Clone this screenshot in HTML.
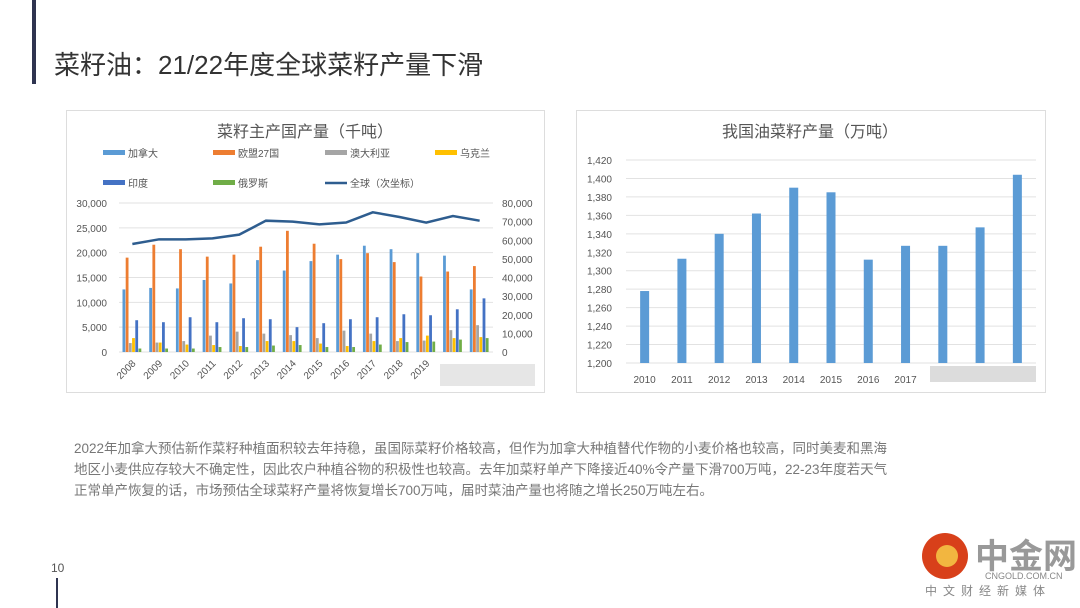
<!DOCTYPE html>
<html><head><meta charset="utf-8">
<style>
body{margin:0;width:1080px;height:608px;background:#fff;overflow:hidden;font-family:"Liberation Sans","Noto Sans CJK SC",sans-serif;}
svg{display:block}
text{font-family:"Liberation Sans","Noto Sans CJK SC",sans-serif}
</style></head>
<body>
<svg id="s" width="1080" height="608" viewBox="0 0 1080 608" xmlns="http://www.w3.org/2000/svg">
<rect x="32" y="0" width="4" height="84" fill="#2f3450"/>
<text x="54" y="74" font-size="26" fill="#333">菜籽油：21/22年度全球菜籽产量下滑</text>
<rect x="66.5" y="110.5" width="478" height="282" fill="#fff" stroke="#ddd"/>
<rect x="576.5" y="110.5" width="469" height="282" fill="#fff" stroke="#ddd"/>
<g id="left"></g>
<g id="right"></g>
<g font-size="13.5" fill="#777">
<text x="74" y="453">2022年加拿大预估新作菜籽种植面积较去年持稳，虽国际菜籽价格较高，但作为加拿大种植替代作物的小麦价格也较高，同时美麦和黑海</text>
<text x="74" y="474">地区小麦供应存较大不确定性，因此农户种植谷物的积极性也较高。去年加菜籽单产下降接近40%令产量下滑700万吨，22-23年度若天气</text>
<text x="74" y="495">正常单产恢复的话，市场预估全球菜籽产量将恢复增长700万吨，届时菜油产量也将随之增长250万吨左右。</text>
</g>
<text x="51" y="572" font-size="12" fill="#555">10</text>
<rect x="56" y="578" width="2" height="30" fill="#2f3450"/>
<g>
<circle cx="945" cy="556" r="23" fill="#d8401a"/>
<circle cx="947" cy="556" r="11" fill="#f2b640"/>
<text x="975" y="568" font-size="34" font-weight="bold" fill="#999">中金网</text>
<text x="985" y="579" font-size="9" fill="#888">CNGOLD.COM.CN</text>
<text x="925" y="595" font-size="12" fill="#888" letter-spacing="6">中文财经新媒体</text>
</g>
</svg>
<script>
// Left chart data
const years = ['2008','2009','2010','2011','2012','2013','2014','2015','2016','2017','2018','2019','2020','2021'];
const canada = [12600,12900,12800,14500,13800,18500,16400,18300,19600,21400,20700,19900,19400,12600];
const eu27 = [19000,21600,20700,19200,19600,21200,24400,21800,18700,19900,18100,15200,16200,17300];
const australia = [1800,1900,2200,3300,4100,3700,3400,2800,4300,3700,2200,2300,4400,5400];
const ukraine = [2800,1900,1500,1400,1200,2200,2200,1700,1200,2200,2800,3300,2800,3000];
const india = [6400,6000,7000,6000,6800,6600,5000,5800,6600,7000,7600,7400,8600,10800];
const russia = [700,700,700,1000,1000,1300,1400,1000,1000,1500,2000,2100,2500,2800];
const globalTotal = [58000,60500,60500,61000,63000,70500,70000,68500,69500,75000,72500,69500,73000,70500];
const leftTicks = [0,5000,10000,15000,20000,25000,30000];
const rightTicks = [0,10000,20000,30000,40000,50000,60000,70000,80000];
// Right chart data
const cnYears = ['2010','2011','2012','2013','2014','2015','2016','2017','','',''];
const cnValues = [1278,1313,1340,1362,1390,1385,1312,1327,1327,1347,1404];
const cnTicks = [1200,1220,1240,1260,1280,1300,1320,1340,1360,1380,1400,1420];

const NS='http://www.w3.org/2000/svg';
function mk(p,tag,a,txt){const e=document.createElementNS(NS,tag);for(const k in a)e.setAttribute(k,a[k]);if(txt!==undefined)e.textContent=txt;p.appendChild(e);return e;}
const fmt=v=>v.toLocaleString('en-US');

// LEFT
const L=document.getElementById('left');
const x0=119,x1=493,yT=203,yB=352;
const yL=v=>yB-(v/30000)*(yB-yT);
const yR=v=>yB-(v/80000)*(yB-yT);
const cw=(x1-x0)/years.length;
const t1=mk(L,'text',{x:305,y:137,'font-size':16,fill:'#555','text-anchor':'middle'},'菜籽主产国产量（千吨）');

leftTicks.forEach(v=>{
  const g=mk(L,'line',{x1:x0,x2:x1,y1:yL(v),y2:yL(v),stroke:'#e2e2e2'});
  
  const t=mk(L,'text',{x:107,y:yL(v)+4,'font-size':10,fill:'#555','text-anchor':'end'},fmt(v));
  
});
rightTicks.forEach(v=>{
  const t=mk(L,'text',{x:502,y:yR(v)+4,'font-size':10,fill:'#555'},fmt(v));
  
});
const series=[[canada,'#5b9bd5','加拿大'],[eu27,'#ed7d31','欧盟27国'],[australia,'#a5a5a5','澳大利亚'],[ukraine,'#ffc000','乌克兰'],[india,'#4472c4','印度'],[russia,'#70ad47','俄罗斯']];
const bw=3.2;
series.forEach((s,si)=>{
  s[0].forEach((v,i)=>{
    const bx=x0+i*cw+3.5+si*bw;
    const r=mk(L,'rect',{x:bx,y:yL(v),width:bw-0.4,height:yB-yL(v),fill:s[1]});
    
    
  });
});
const pts=globalTotal.map((v,i)=>(x0+(i+0.5)*cw)+','+yR(v)).join(' ');
const pl=mk(L,'polyline',{points:pts,fill:'none',stroke:'#2e5d8f','stroke-width':2.5});

years.forEach((y,i)=>{
  if(i>=12)return;
  const cx=x0+(i+0.5)*cw;
  const t=mk(L,'text',{x:cx+4,y:yB+12,'font-size':10,fill:'#555','text-anchor':'end',transform:`rotate(-45 ${cx+4} ${yB+12})`},y);
  
});
const blur1=mk(L,'rect',{x:440,y:364,width:95,height:22,fill:'#e6e6e6'});

const leg=[[103,153,'#5b9bd5','加拿大','rect'],[213,153,'#ed7d31','欧盟27国','rect'],[325,153,'#a5a5a5','澳大利亚','rect'],[435,153,'#ffc000','乌克兰','rect'],[103,183,'#4472c4','印度','rect'],[213,183,'#70ad47','俄罗斯','rect'],[325,183,'#2e5d8f','全球（次坐标）','line']];
leg.forEach(l=>{
  const m=l[4]==='rect'?mk(L,'rect',{x:l[0],y:l[1]-3,width:22,height:5,fill:l[2]}):mk(L,'line',{x1:l[0],x2:l[0]+22,y1:l[1],y2:l[1],stroke:l[2],'stroke-width':2.5});
  
  const t=mk(L,'text',{x:l[0]+25,y:l[1]+4,'font-size':10,fill:'#555'},l[3]);
  
});

// RIGHT
const R=document.getElementById('right');
const rx0=626,rx1=1036,ryT=160,ryB=363;
const yC=v=>ryB-((v-1200)/220)*(ryB-ryT);
const rcw=(rx1-rx0)/cnValues.length;
const t2=mk(R,'text',{x:810,y:137,'font-size':16,fill:'#555','text-anchor':'middle'},'我国油菜籽产量（万吨）');

cnTicks.forEach(v=>{
  const g=mk(R,'line',{x1:rx0,x2:rx1,y1:yC(v),y2:yC(v),stroke:'#e2e2e2'});
  
  const t=mk(R,'text',{x:612,y:yC(v)+4,'font-size':10,fill:'#555','text-anchor':'end'},fmt(v));
  
});
cnValues.forEach((v,i)=>{
  const cx=rx0+(i+0.5)*rcw;
  const r=mk(R,'rect',{x:cx-4.5,y:yC(v),width:9,height:ryB-yC(v),fill:'#5b9bd5'});
  
  
  if(cnYears[i]){
    const t=mk(R,'text',{x:cx,y:383,'font-size':10,fill:'#555','text-anchor':'middle'},cnYears[i]);
    
  }
});
const blur2=mk(R,'rect',{x:930,y:366,width:106,height:16,fill:'#dcdcdc'});

</script>
</body></html>
